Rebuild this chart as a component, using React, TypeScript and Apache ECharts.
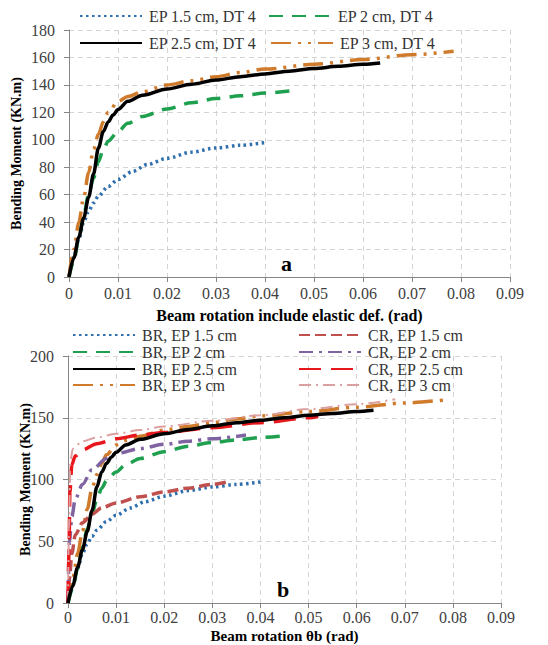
import React, { useEffect, useRef } from "react";
import * as echarts from "echarts";

// ---- Chart a: Beam rotation include elastic def. ----
const ep15 = [[0,0],[0.001,15],[0.002,28],[0.003,40],[0.004,48],[0.005,54],[0.006,59],[0.008,66],[0.01,71],[0.013,77],[0.016,82],[0.02,86.5],[0.025,91],[0.03,94],[0.035,96],[0.04,98]];
const ep2 = [[0,0],[0.001,12],[0.002,28],[0.003,45],[0.004,60],[0.005,72],[0.006,84],[0.007,93],[0.008,99],[0.01,106],[0.012,112],[0.015,117],[0.02,122.5],[0.025,127],[0.03,130],[0.035,132],[0.04,134],[0.045,135.5]];
const ep25 = [[0,0],[0.001,14],[0.002,29],[0.003,43],[0.004,58],[0.005,75],[0.006,94],[0.007,106],[0.008,113],[0.009,118],[0.01,122],[0.012,128],[0.015,132.5],[0.02,137],[0.025,140.5],[0.03,143.5],[0.035,146],[0.04,148],[0.045,150],[0.05,152],[0.055,153.5],[0.06,155],[0.0635,156]];
const ep3 = [[0,0],[0.001,20],[0.002,40],[0.003,58],[0.004,76],[0.005,93],[0.006,104],[0.007,113],[0.008,120],[0.01,128],[0.012,131.5],[0.015,135],[0.02,140],[0.025,143],[0.03,146],[0.035,149],[0.04,151.5],[0.05,155],[0.06,158.5],[0.07,162],[0.0785,164.5]];

// ---- Chart b: CR curves (BR curves reuse the arrays above) ----
const cr15 = [[0,0],[0.0003,20],[0.0008,40],[0.0015,55],[0.003,65],[0.005,72],[0.007,77],[0.01,81],[0.015,86],[0.02,90],[0.025,93],[0.03,96],[0.033,98]];
const cr2 = [[0,0],[0.0003,50],[0.0008,70],[0.0015,84],[0.003,96],[0.005,108],[0.008,117],[0.01,121],[0.015,125],[0.02,128.5],[0.025,131],[0.03,133],[0.037,136]];
const cr25 = [[0,0],[0.0002,40],[0.0004,90],[0.0008,112],[0.0015,119],[0.003,124],[0.006,129],[0.01,133],[0.015,136],[0.02,138],[0.03,142],[0.04,146],[0.05,150],[0.052,151]];
const cr3 = [[0,0],[0.0002,60],[0.0005,115],[0.001,125],[0.003,131],[0.006,134],[0.01,137],[0.015,140],[0.02,143],[0.03,147.5],[0.04,152],[0.05,157],[0.06,161],[0.068,165]];

const namesA = ["EP 1.5 cm, DT 4", "EP 2 cm, DT 4", "EP 2.5 cm, DT 4", "EP 3 cm, DT 4"];
const namesBR = ["BR, EP 1.5 cm", "BR, EP 2 cm", "BR, EP 2.5 cm", "BR, EP 3 cm"];
const namesCR = ["CR, EP 1.5 cm", "CR, EP 2 cm", "CR, EP 2.5 cm", "CR, EP 3 cm"];

const xTitleA = "Beam rotation include elastic def. (rad)";
const xTitleB = "Beam rotation θb (rad)";
const yTitle = "Bending Moment (KN.m)";

const SERIF = "Liberation Serif, Times New Roman, serif";

const styleBR = [
  { color: "#2e6fae", width: 3.5, type: [2.5, 3.5], cap: "butt" },
  { color: "#1fa04f", width: 3.5, type: [14, 9] },
  { color: "#000000", width: 3.5, type: "solid" },
  { color: "#d07a2c", width: 3.5, type: [20, 7, 3, 7, 3, 7] },
];
const styleCR = [
  { color: "#c0504d", width: 3.5, type: [11, 5] },
  { color: "#8064a2", width: 3.5, type: [14, 6, 3, 6] },
  { color: "#e8171b", width: 3.5, type: [22, 10] },
  { color: "#dca0a0", width: 2, type: [12, 5, 2, 5] },
];

const dataBR = [ep15, ep2, ep25, ep3];
const dataCR = [cr15, cr2, cr25, cr3];

export default function App() {
  const ref = useRef<HTMLDivElement>(null);
  useEffect(() => {
    if (!ref.current) return;
    const chart = echarts.init(ref.current, null, { renderer: "svg" });
    const axisLabel = { fontFamily: SERIF, fontSize: 16, color: "#404040" };
    const xAxisCommon = (gridIndex: number, name: string, gap: number, margin: number, nameSize: number) => ({
      type: "value",
      gridIndex,
      min: 0,
      max: 0.09,
      interval: 0.01,
      name,
      nameLocation: "middle",
      nameGap: gap,
      nameMoveOverlap: false,
      nameTextStyle: { fontFamily: SERIF, fontSize: nameSize, fontWeight: "bold", color: "#000" },
      axisLine: { show: true, lineStyle: { color: "#868686", width: 1 } },
      axisTick: { show: true, length: 5, lineStyle: { color: "#868686" } },
      axisLabel: { ...axisLabel, margin, formatter: (v: number) => (v === 0 ? "0" : v.toFixed(2)) },
      splitLine: { show: true, lineStyle: { color: "#d4d4d4", type: [5, 4] } },
    });
    const yAxisCommon = (gridIndex: number, max: number, interval: number, gap: number) => ({
      type: "value",
      gridIndex,
      min: 0,
      max,
      interval,
      name: yTitle,
      nameLocation: "middle",
      nameGap: gap,
      nameMoveOverlap: false,
      nameTextStyle: { fontFamily: SERIF, fontSize: 14, fontWeight: "bold", color: "#000" },
      axisLine: { show: true, lineStyle: { color: "#868686", width: 1 } },
      axisTick: { show: true, length: 5, lineStyle: { color: "#868686" } },
      axisLabel: { ...axisLabel, margin: 14 },
      splitLine: { show: true, lineStyle: { color: "#d4d4d4", type: [5, 4] } },
    });

    const series: any[] = [];
    dataBR.forEach((d, i) => {
      series.push({
        type: "line", name: namesA[i], xAxisIndex: 0, yAxisIndex: 0, data: d,
        showSymbol: false, symbol: "none", smooth: 0.3, smoothMonotone: "x",
        lineStyle: styleBR[i], itemStyle: { color: styleBR[i].color }, z: i === 2 ? 4 : 3,
      });
    });
    dataBR.forEach((d, i) => {
      series.push({
        type: "line", name: namesBR[i], xAxisIndex: 1, yAxisIndex: 1, data: d,
        showSymbol: false, symbol: "none", smooth: 0.3, smoothMonotone: "x",
        lineStyle: styleBR[i], itemStyle: { color: styleBR[i].color }, z: i === 2 ? 4 : 3,
      });
    });
    dataCR.forEach((d, i) => {
      series.push({
        type: "line", name: namesCR[i], xAxisIndex: 1, yAxisIndex: 1, data: d,
        showSymbol: false, symbol: "none", smooth: 0.3, smoothMonotone: "x",
        lineStyle: styleCR[i], itemStyle: { color: styleCR[i].color }, z: 3,
      });
    });

    const legendText = { fontFamily: SERIF, fontSize: 16, color: "#333", padding: [0, 0, 0, 2] };
    const mkLegend = (name: string, left: number, cy: number) => ({
      data: [name], left, top: cy - 7, itemWidth: 62, itemHeight: 14, padding: 0,
      itemGap: 0, textStyle: legendText, selectedMode: false,
      itemStyle: { opacity: 0, borderWidth: 0 },
    });
    const legends = [
      mkLegend(namesA[0], 79, 15),
      mkLegend(namesA[1], 268, 15),
      mkLegend(namesA[2], 79, 42),
      mkLegend(namesA[3], 270, 42),
      mkLegend(namesBR[0], 72, 334),
      mkLegend(namesBR[1], 72, 351),
      mkLegend(namesBR[2], 72, 368),
      mkLegend(namesBR[3], 72, 384),
      mkLegend(namesCR[0], 298, 334),
      mkLegend(namesCR[1], 298, 351),
      mkLegend(namesCR[2], 298, 368),
      mkLegend(namesCR[3], 298, 384),
    ];

    chart.setOption({
      animation: false,
      backgroundColor: "#fff",
      grid: [
        { left: 69, top: 30, width: 441, height: 247 },
        { left: 68, top: 356, width: 433, height: 247 },
      ],
      xAxis: [xAxisCommon(0, xTitleA, 30, 8, 16), xAxisCommon(1, xTitleB, 25, 6, 15)],
      yAxis: [yAxisCommon(0, 180, 20, 46), yAxisCommon(1, 200, 50, 36)],
      legend: legends,
      series,
      graphic: [
        { type: "text", left: 281, top: 252, style: { text: "a", fontFamily: SERIF, fontSize: 22, fontWeight: "bold", fill: "#000" } },
        { type: "text", left: 277, top: 578, style: { text: "b", fontFamily: SERIF, fontSize: 22, fontWeight: "bold", fill: "#000" } },
      ],
    });
    return () => chart.dispose();
  }, []);
  return (
    <div
      ref={ref}
      style={{ position: "fixed", left: 0, top: 0, width: 548, height: 645, background: "#fff" }}
    />
  );
}
